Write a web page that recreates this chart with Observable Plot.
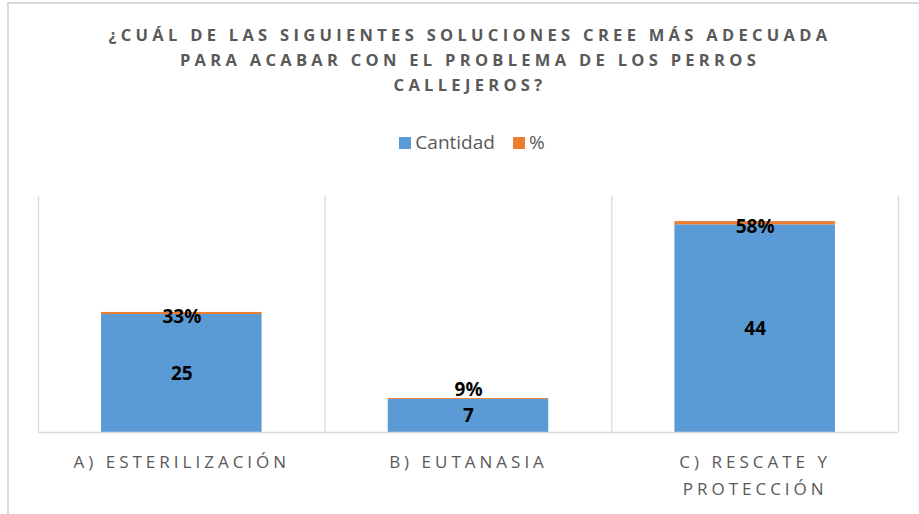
<!DOCTYPE html>
<html>
<head>
<meta charset="utf-8">
<script src="https://cdn.jsdelivr.net/npm/d3@7"></script>
<script src="https://cdn.jsdelivr.net/npm/@observablehq/plot@0.6"></script>
<style>
  html, body { margin: 0; padding: 0; background: #fff; }
  #wrap { position: relative; width: 919px; height: 514px; overflow: hidden; font-family: "Open Sans", sans-serif; }
  #border { position: absolute; left: 7px; top: 2px; width: 930px; height: 530px; border: 2px solid #d9d9d9; box-sizing: border-box; }
  #title { position: absolute; left: 0; top: 22px; width: 940px; text-align: center; color: #595959; font-weight: bold; font-size: 16.5px; line-height: 25px; letter-spacing: 4.3px; }
  #legend { position: absolute; left: 0; top: 129px; width: 944px; text-align: center; color: #595959; font-size: 19px; }
  #legend span.sw { display: inline-block; width: 12px; height: 12px; margin-right: 4px; vertical-align: 0px; }
  #chart { position: absolute; left: 0; top: 170px; }
</style>
</head>
<body>
<div id="wrap">
  <div id="border"></div>
  <div id="title">¿CUÁL DE LAS SIGUIENTES SOLUCIONES CREE MÁS ADECUADA<br>PARA ACABAR CON EL PROBLEMA DE LOS PERROS<br>CALLEJEROS?</div>
  <div id="legend"></div>
  <div id="chart"></div>
</div>
<script>
const categories = ["A) ESTERILIZACIÓN", "B) EUTANASIA", "C) RESCATE Y\nPROTECCIÓN"];
const cantidad = [25, 7, 44];
const porcentaje = [33, 9, 58];
const seriesNames = ["Cantidad", "%"];
const seriesColors = ["#5B9BD5", "#ED7D31"];

// legend
const legend = document.getElementById("legend");
legend.innerHTML = seriesNames.map((s, i) =>
  `<span style="margin:0 9px"><span class="sw" style="background:${seriesColors[i]}"></span>${s}</span>`).join("");

const rows = categories.map((c, i) => ({i, cat: c, cant: cantidad[i], pctLabel: porcentaje[i] + "%", pct: porcentaje[i] / 100}));
const half = 0.28;
const boundaries = d3.range(categories.length + 1).map(k => k - 0.5);

const chart = Plot.plot({
  width: 919,
  height: 344,
  marginLeft: 38,
  marginRight: 21,
  marginTop: 26,
  marginBottom: 82,
  x: {domain: [-0.5, categories.length - 0.5], axis: null},
  y: {domain: [0, 50], axis: null},
  marks: [
    Plot.ruleX(boundaries, {stroke: "#d9d9d9", strokeWidth: 1.3}),
    Plot.rectY(rows, {x1: d => d.i - half, x2: d => d.i + half, y1: 0, y2: d => d.cant, fill: seriesColors[0]}),
    Plot.rectY(rows, {x1: d => d.i - half, x2: d => d.i + half, y1: d => d.cant, y2: d => d.cant + d.pct, fill: seriesColors[1], insetTop: -0.5}),
    Plot.ruleY([0], {stroke: "#d9d9d9", strokeWidth: 1.5}),
    Plot.text(rows, {x: "i", y: d => d.cant / 2, text: d => String(d.cant), fontSize: 19, fontWeight: "bold", fill: "#000"}),
    Plot.text(rows.filter(d => d.cant >= 10), {x: "i", y: d => d.cant + d.pct / 2, text: "pctLabel", fontSize: 19, fontWeight: "bold", fill: "#000", dy: 3}),
    Plot.text(rows.filter(d => d.cant < 10), {x: "i", y: d => d.cant + d.pct, text: "pctLabel", fontSize: 19, fontWeight: "bold", fill: "#000", lineAnchor: "bottom", dy: -3}),
    Plot.text(rows, {x: "i", y: 0, text: "cat", fontSize: 17, fill: "#595959", lineAnchor: "top", dy: 16, lineHeight: 1.6, className: "catlab"})
  ],
  style: {fontFamily: "'Open Sans', sans-serif", background: "transparent", overflow: "visible"}
});
d3.select(chart).selectAll(".catlab text").attr("letter-spacing", "4px");
document.getElementById("chart").appendChild(chart);
</script>
</body>
</html>
